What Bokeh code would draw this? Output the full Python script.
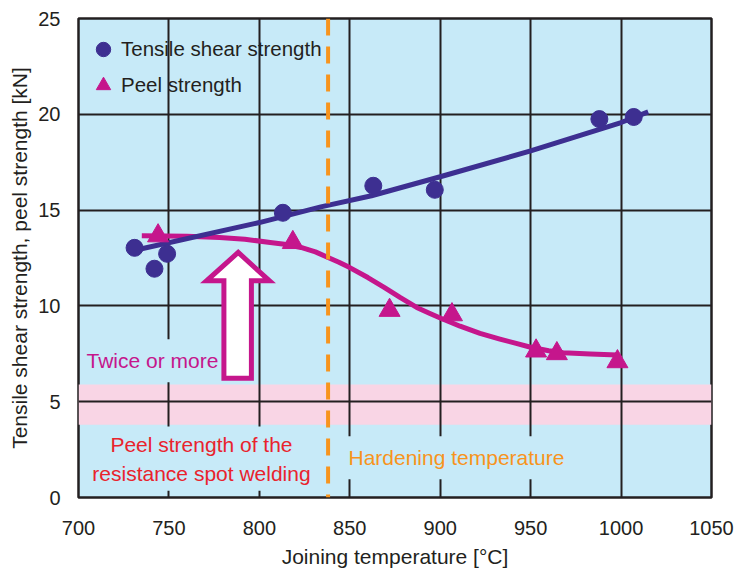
from bokeh.plotting import figure
from bokeh.models import BoxAnnotation, Label, Span, FixedTicker
from bokeh.embed import file_html
from bokeh.resources import INLINE

# ---- data ----
tensile_x = [731, 742, 749, 813, 863, 897, 988, 1007]
tensile_y = [13.03, 11.94, 12.72, 14.86, 16.27, 16.06, 19.75, 19.86]

tensile_fit_x = [730, 800, 834, 862, 900, 950, 1000, 1015]
tensile_fit_y = [12.88, 14.35, 15.17, 15.75, 16.74, 18.09, 19.57, 20.13]

peel_x = [744, 818.5, 872, 906.5, 953, 964.5, 998]
peel_y = [13.66, 13.31, 9.77, 9.54, 7.65, 7.51, 7.09]

peel_fit_x = [735, 760, 778, 792, 806, 815, 823, 831, 838, 844, 850, 860, 869, 878, 887, 894, 900, 911, 922, 933, 942, 950, 960, 968, 983, 998]
peel_fit_y = [13.66, 13.63, 13.57, 13.48, 13.31, 13.2, 13.05, 12.82, 12.53, 12.28, 12.0, 11.48, 10.97, 10.43, 9.92, 9.62, 9.37, 8.94, 8.57, 8.27, 8.04, 7.84, 7.66, 7.56, 7.49, 7.44]

hardening_temp = 838
rsw_band = (3.8, 5.9)

arrow_x = [788.3, 805.6, 795.6, 795.6, 780.4, 780.4, 770.8]
arrow_y = [12.79, 11.31, 11.31, 6.23, 6.23, 11.31, 11.31]

x_ticks = [700, 750, 800, 850, 900, 950, 1000, 1050]
y_ticks = [0, 5, 10, 15, 20, 25]

# ---- styles ----
BG = "#c7eaf8"
PINK = "#f9d5e5"
BLUE = "#3d2f91"
MAGENTA = "#c5168c"
RED = "#e9232d"
ORANGE = "#f7941d"
TEXT = "#231f20"
FONT = "Liberation Sans"

p = figure(width=737, height=570, x_range=(700, 1050), y_range=(0, 25),
           output_backend="svg", toolbar_location=None,
           min_border_left=78, min_border_right=26, min_border_top=18, min_border_bottom=73,
           background_fill_color=BG, border_fill_color="white")

p.outline_line_color = TEXT
p.outline_line_width = 2.5

p.xaxis.ticker = FixedTicker(ticks=x_ticks)
p.yaxis.ticker = FixedTicker(ticks=y_ticks)
p.xgrid.ticker = FixedTicker(ticks=x_ticks[1:-1])
p.ygrid.ticker = FixedTicker(ticks=y_ticks[1:-1])
for g in (p.xgrid, p.ygrid):
    g.grid_line_color = TEXT
    g.grid_line_width = 2

for ax in (p.xaxis, p.yaxis):
    ax.axis_line_color = None
    ax.major_tick_line_color = None
    ax.minor_tick_line_color = None
    ax.major_label_text_font = FONT
    ax.major_label_text_font_size = "20px"
    ax.major_label_text_color = TEXT
    ax.axis_label_text_font = FONT
    ax.axis_label_text_font_size = "21px"
    ax.axis_label_text_font_style = "normal"
    ax.axis_label_text_color = TEXT

p.xaxis.axis_label = "Joining temperature [°C]"
p.yaxis.axis_label = "Tensile shear strength, peel strength [kN]"
p.xaxis.major_label_standoff = 17
p.xaxis.axis_label_standoff = 7
p.yaxis.major_label_standoff = 12
p.yaxis.axis_label_standoff = 4

band = BoxAnnotation(bottom=rsw_band[0], top=rsw_band[1], fill_color=PINK, fill_alpha=1.0,
                     line_color=None, level="image")
p.add_layout(band)

p.line(peel_fit_x, peel_fit_y, line_width=5, line_color=MAGENTA, line_join="round")
p.line(tensile_fit_x, tensile_fit_y, line_width=5, line_color=BLUE)

p.patch(arrow_x, arrow_y, fill_color="white", line_color=MAGENTA, line_width=5, line_join="miter")

p.scatter(tensile_x, tensile_y, marker="circle", size=17, color=BLUE,
          legend_label="Tensile shear strength")
p.scatter(peel_x, peel_y, marker="triangle", size=21, color=MAGENTA,
          legend_label="Peel strength")

lg = p.legend[0]
lg.location = (7, 394)
lg.margin = 0
lg.padding = 0
lg.spacing = 0
lg.glyph_width = 36
lg.glyph_height = 36
lg.label_standoff = -9
lg.border_line_color = None
lg.background_fill_alpha = 0
lg.label_text_font = FONT
lg.label_text_font_size = "20.5px"
lg.label_text_color = TEXT

p.add_layout(Label(x=703.3, y=7.14, text="Twice or more", text_align="left",
                   text_baseline="middle", text_color=MAGENTA, text_font=FONT,
                   text_font_size="21px", background_fill_color=BG,
                   padding=dict(left=2, right=2, top=10, bottom=10)))
p.add_layout(Label(x=768, y=2.03, text="Peel strength of the\nresistance spot welding",
                   text_align="center", text_baseline="middle", text_color=RED,
                   text_font=FONT, text_font_size="21px", text_line_height=1.27,
                   background_fill_color=BG,
                   padding=dict(left=4, right=4, top=6, bottom=6)))
p.add_layout(Label(x=844.3, y=2.07, text="Hardening temperature", text_align="left",
                   text_baseline="middle", text_color=ORANGE, text_font=FONT,
                   text_font_size="21px", background_fill_color=BG,
                   padding=dict(left=9, right=7, top=10, bottom=10)))

p.add_layout(Span(location=hardening_temp, dimension="height", line_color=ORANGE,
                  line_width=4, line_dash="17 11"))

open("out.html", "w").write(file_html(p, INLINE))
